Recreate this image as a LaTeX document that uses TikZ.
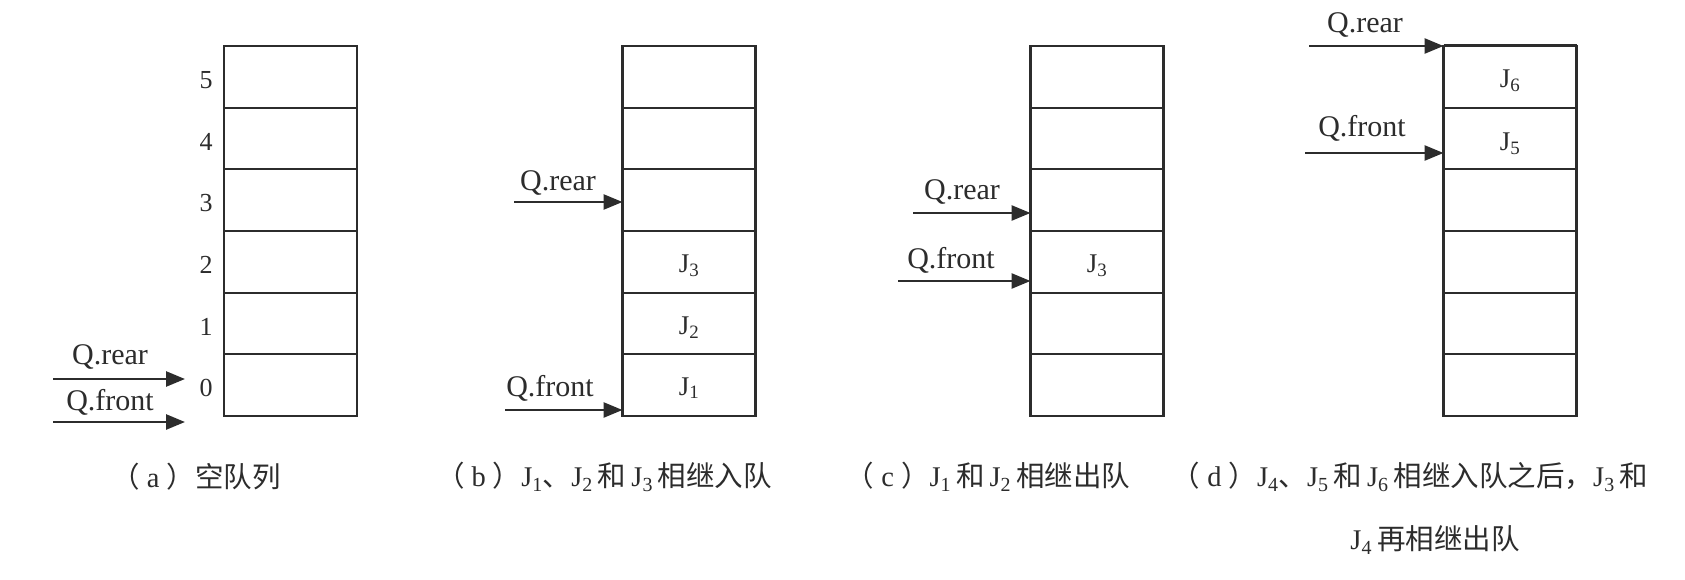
\documentclass[tikz,border=0pt]{standalone}
\usepackage{fontspec}
\setmainfont{Liberation Serif}
\newfontfamily\cjk{Noto Sans CJK SC}
\usetikzlibrary{arrows.meta}
\definecolor{ink}{HTML}{2C2C2C}
\newcommand\jj[1]{J\textsubscript{#1}}
\newcommand\gp{\hspace{5pt}}
\newcommand\pg{\hspace{7pt}}
\begin{document}
\begin{tikzpicture}[x=1pt,y=-1pt,
  cell/.style={draw=ink,line width=2.2pt,minimum width=133pt,minimum height=61.67pt,inner sep=0pt,outer sep=0pt},
  elem/.style={font=\fontsize{27}{30}\selectfont,text=ink,inner sep=0pt},
  ptr/.style={draw=ink,line width=2.6pt,-{Triangle[length=19pt,width=15pt]}},
  lbl/.style={font=\fontsize{30}{36}\selectfont,text=ink,inner sep=0pt},
  idx/.style={font=\fontsize{26}{30}\selectfont,text=ink,inner sep=0pt},
  captext/.style={font=\fontsize{28.5}{34}\selectfont,text=ink,inner sep=0pt}]
\useasboundingbox[fill=white] (0,0) rectangle (1685,580);

% queue cells
\foreach \col/\x in {a/290.5,b/689,c/1097,d/1510} {
  \foreach \i in {0,...,5} {
    \node[cell] (\col\i) at (\x,{416-61.67*(\i+0.5)}) {};
  }
}

% indices of (a)
\foreach \i in {0,...,5} {
  \node[idx] (n\i) at ([xshift=-18pt,yshift=-3pt]a\i.west) {\i};
}

% elements
\node[elem] (b0t) at ([yshift=-3pt]b0.center) {\jj{1}};
\node[elem] (b1t) at ([yshift=-4pt]b1.center) {\jj{2}};
\node[elem] (b2t) at ([yshift=-4pt]b2.center) {\jj{3}};
\node[elem] (c2t) at ([yshift=-4pt]c2.center) {\jj{3}};
\node[elem] (d4t) at ([yshift=-5pt]d4.center) {\jj{5}};
\node[elem] (d5t) at ([yshift=-4pt]d5.center) {\jj{6}};

% (a) pointers
\coordinate (arS) at (53,379);
\coordinate (arE) at (185,379);
\coordinate (afS) at (53,422);
\coordinate (afE) at (185,422);
\draw[ptr] (arS) -- (arE);
\draw[ptr] (afS) -- (afE);
\node[lbl] (arL) at (110,357) {Q.rear};
\node[lbl] (afL) at (110,402) {Q.front};

% (b) pointers
\coordinate (brS) at (514,202);
\coordinate (bfS) at (505,410);
\draw[ptr] (brS) -- (brS -| b3.west);
\draw[ptr] (bfS) -- (bfS -| b0.west);
\node[lbl] (brL) at (558,183) {Q.rear};
\node[lbl] (bfL) at (550,388) {Q.front};

% (c) pointers
\coordinate (crS) at (913,213);
\coordinate (cfS) at (898,281);
\draw[ptr] (crS) -- (crS -| c3.west);
\draw[ptr] (cfS) -- (cfS -| c2.west);
\node[lbl] (crL) at (962,192) {Q.rear};
\node[lbl] (cfL) at (951,260) {Q.front};

% (d) pointers
\coordinate (drS) at (1309,46);
\coordinate (dfS) at (1305,153);
\draw[ptr] (drS) -- (drS -| d5.west);
\draw[ptr] (dfS) -- (dfS -| d4.west);
\draw[ink,line width=3pt] (d5.north west) -- (d5.north east);
\node[lbl] (drL) at (1365,25) {Q.rear};
\node[lbl] (dfL) at (1362,128) {Q.front};

% captions
\node[captext] (capa) at (196,477) {{\cjk （}\pg a\pg{\cjk ）空队列}};
\node[captext] (capb) at (604,477) {{\cjk （}\pg b\pg{\cjk ）}\jj{1}{\cjk 、}\jj{2}\gp{\cjk 和}\gp\jj{3}\gp{\cjk 相继入队}};
\node[captext] (capc) at (988,477) {{\cjk （}\pg c\pg{\cjk ）}\jj{1}\gp{\cjk 和}\gp\jj{2}\gp{\cjk 相继出队}};
\node[captext] (capd) at (1410,477) {{\cjk （}\pg d\pg{\cjk ）}\jj{4}{\cjk 、}\jj{5}\gp{\cjk 和}\gp\jj{6}\gp{\cjk 相继入队之后，}\jj{3}\gp{\cjk 和}};
\node[captext] (capd2) at (1435,540) {\jj{4}\gp{\cjk 再相继出队}};
\end{tikzpicture}
\end{document}
